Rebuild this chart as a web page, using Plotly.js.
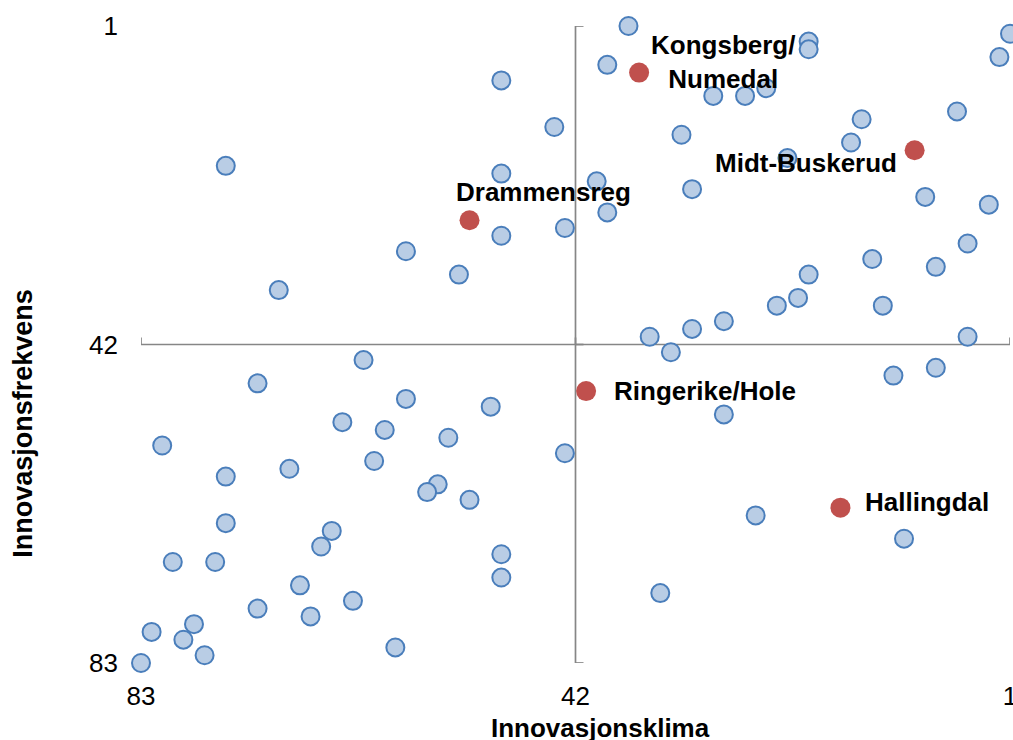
<!DOCTYPE html>
<html>
<head>
<meta charset="utf-8">
<script src="https://cdn.plot.ly/plotly-3.0.1.min.js"></script>
<style>html,body{margin:0;padding:0;background:#fff;}#chart{width:1013px;height:740px;}</style>
</head>
<body>
<div id="chart"></div>
<script>
// Innovasjonsklima rank (x) and Innovasjonsfrekvens rank (y), other regions
var otherKlima = [49,44,75,49,49,43,58,53,70,37,39,20,20,1,2,29,26,24,6,15,16,32,22,40,31,39,9,3,5,14,8,20,21,23,13,28,31,35,5,33,28,12,8,43,25,11,34,62,72,58,50,64,60,54,81,61,69,75,55,56,52,75,65,66,49,80,76,49,68,63,72,67,78,82,79,77,59,83];
var otherFrekvens = [8,14,19,20,28,27,30,33,35,1,6,3,4,2,5,10,10,9,12,13,16,15,18,21,22,25,23,24,29,31,32,33,36,37,37,39,40,41,41,43,51,46,45,56,64,67,74,44,47,49,50,52,53,54,55,57,58,59,60,61,62,65,66,68,69,70,70,72,73,75,76,77,78,79,80,82,81,83];

// Highlighted Buskerud regions
var regionNames = ["Kongsberg/<br>Numedal","Drammensreg","Midt-Buskerud","Ringerike/Hole","Hallingdal"];
var regionKlima = [36,52,10,41,17];
var regionFrekvens = [7,26,17,48,63];

var tickVals = [1,42,83];
var tickText = ["1","42","83"];
var midValue = 42;

// label offsets in pixels (layout only)
var labelShiftX = [84,74,-109,119,87];
var labelShiftY = [11,28,-13,0,6];

var FONT = "Liberation Sans, Arial, Helvetica, sans-serif";
var axisGray = "#868686";

var traces = [
  {
    type: "scatter", mode: "markers",
    x: otherKlima, y: otherFrekvens,
    marker: {size: 18, color: "#b9cde5", line: {color: "#4a7ebb", width: 2}},
    cliponaxis: false, hoverinfo: "x+y", showlegend: false
  },
  {
    type: "scatter", mode: "markers",
    x: regionKlima, y: regionFrekvens, text: regionNames,
    marker: {size: 20, color: "#c0504d", line: {width: 0}},
    cliponaxis: false, hoverinfo: "text", showlegend: false
  }
];

var annotations = regionNames.map(function(name, i){
  return {
    x: regionKlima[i], y: regionFrekvens[i], xref: "x", yref: "y",
    text: "<b>" + name + "</b>", showarrow: false,
    xanchor: "center", yanchor: "middle", align: "center",
    xshift: labelShiftX[i], yshift: labelShiftY[i],
    font: {family: FONT, size: 26, color: "#000"}
  };
});
annotations.push({
  xref: "paper", yref: "paper", x: 0.529, y: -0.102,
  text: "<b>Innovasjonsklima</b>", showarrow: false,
  xanchor: "center", yanchor: "middle",
  font: {family: FONT, size: 26, color: "#000"}
});
annotations.push({
  xref: "paper", yref: "paper", x: -0.1358, y: 0.377,
  text: "<b>Innovasjonsfrekvens</b>", showarrow: false, textangle: -90,
  xanchor: "center", yanchor: "middle",
  font: {family: FONT, size: 27, color: "#000"}
});

var shapes = [
  {type: "line", xref: "x", yref: "y", x0: midValue, x1: midValue, y0: tickVals[0], y1: tickVals[2],
   line: {color: axisGray, width: 1.7}, layer: "between"},
  {type: "line", xref: "x", yref: "y", x0: tickVals[2], x1: tickVals[0], y0: midValue, y1: midValue,
   line: {color: axisGray, width: 1.7}, layer: "between"}
];
tickVals.forEach(function(v){
  shapes.push({type: "line", xref: "x", yref: "y", xsizemode: "pixel", xanchor: midValue,
    x0: 0, x1: 8, y0: v, y1: v, line: {color: axisGray, width: 1.7}, layer: "between"});
  shapes.push({type: "line", xref: "x", yref: "y", ysizemode: "pixel", yanchor: midValue,
    y0: 0, y1: 7, x0: v, x1: v, line: {color: axisGray, width: 1.7}, layer: "between"});
});

var layout = {
  width: 1013, height: 740,
  margin: {l: 141, r: 3, t: 26, b: 77, pad: 0},
  paper_bgcolor: "#fff", plot_bgcolor: "#fff",
  font: {family: FONT, size: 26, color: "#000"},
  xaxis: {
    range: [83, 1], tickmode: "array", tickvals: tickVals, ticktext: tickText,
    showgrid: false, zeroline: false, showline: false, ticks: "",
    ticklabelstandoff: 15, ticklabeloverflow: "allow",
    tickfont: {family: FONT, size: 26, color: "#000"}
  },
  yaxis: {
    range: [83, 1], tickmode: "array", tickvals: tickVals, ticktext: tickText,
    showgrid: true, gridcolor: "#d9d9d9", gridwidth: 1.5, zeroline: false, showline: false, ticks: "",
    ticklabelstandoff: 22, ticklabeloverflow: "allow",
    tickfont: {family: FONT, size: 26, color: "#000"}
  },
  shapes: shapes,
  annotations: annotations,
  showlegend: false
};

Plotly.newPlot("chart", traces, layout, {displayModeBar: false, staticPlot: true});
</script>
</body>
</html>
